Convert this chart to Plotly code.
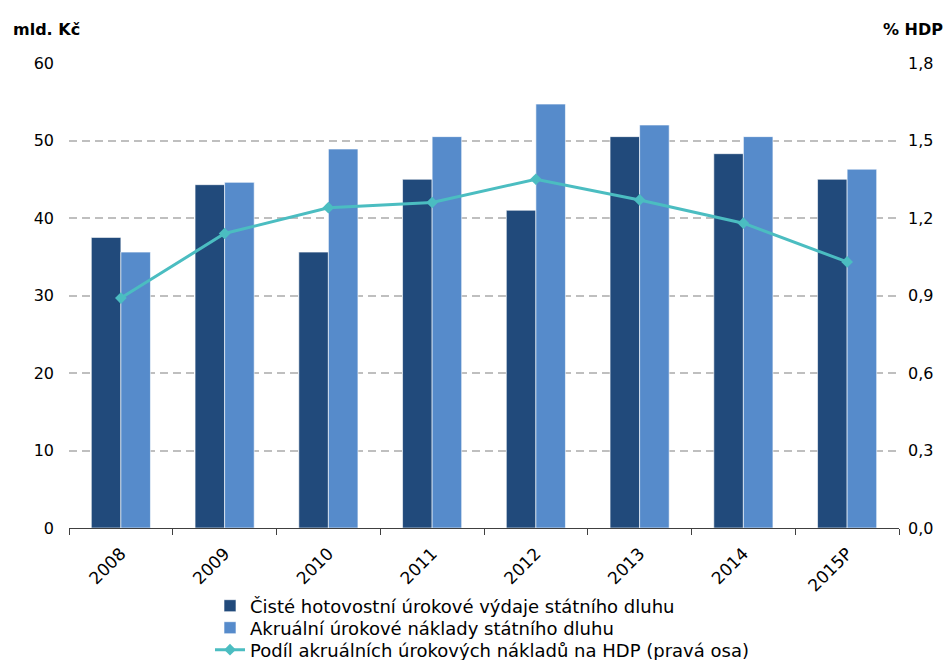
import plotly.graph_objects as go

years = ["2008", "2009", "2010", "2011", "2012", "2013", "2014", "2015P"]
cash_interest = [37.5, 44.3, 35.6, 45.0, 41.0, 50.5, 48.3, 45.0]
accrual_interest = [35.6, 44.6, 48.9, 50.5, 54.7, 52.0, 50.5, 46.3]
share_gdp = [0.89, 1.14, 1.24, 1.26, 1.35, 1.27, 1.18, 1.03]

name_cash = "Čisté hotovostní úrokové výdaje státního dluhu"
name_accr = "Akruální úrokové náklady státního dluhu"
name_share = "Podíl akruálních úrokových nákladů na HDP (pravá osa)"

FONT = "DejaVu Sans"
LEG_X = (210 - 69) / 830

fig = go.Figure()
fig.add_trace(go.Bar(x=years, y=cash_interest, name=name_cash, legend="legend",
                     marker=dict(color="#214A7B", line=dict(color="rgba(255,255,255,0.6)", width=1))))
fig.add_trace(go.Bar(x=years, y=accrual_interest, name=name_accr, legend="legend2",
                     marker=dict(color="#568BCB", line=dict(color="rgba(255,255,255,0.6)", width=1))))
fig.add_trace(go.Scatter(x=years, y=share_gdp, name=name_share, yaxis="y2", legend="legend3",
                         mode="lines+markers",
                         line=dict(color="#4BBDC1", width=3),
                         marker=dict(symbol="diamond", size=9, color="#4BBDC1")))

def leg(ypix):
    return dict(x=LEG_X, y=1 - ypix / 660, xref="paper", yref="container",
                xanchor="left", yanchor="middle",
                font=dict(family=FONT, size=18), itemwidth=30,
                bgcolor="rgba(0,0,0,0)")

fig.update_layout(
    width=949, height=660,
    margin=dict(l=69, r=50, t=63, b=132),
    paper_bgcolor="white", plot_bgcolor="white",
    separators=", ",
    font=dict(family=FONT, size=16, color="#000000"),
    barmode="group", bargap=0.43, bargroupgap=0,
    showlegend=True,
    legend=leg(606), legend2=leg(628), legend3=leg(650),
    xaxis=dict(type="category", showgrid=False, tickangle=-45, automargin=False,
               showline=True, linecolor="#404040", linewidth=1,
               ticks="outside", tickson="boundaries", ticklen=6, tickcolor="#404040",
               ticklabelstandoff=8, tickfont=dict(family=FONT, size=17)),
    yaxis=dict(range=[0, 60], dtick=10, showgrid=True, gridcolor="#BFBFBF",
               griddash="8px,5px", gridwidth=2, zeroline=False, showline=False, automargin=False,
               ticks="", ticklabelstandoff=14, tickfont=dict(family=FONT, size=16)),
    yaxis2=dict(range=[0, 1.8], dtick=0.3, overlaying="y", side="right", automargin=False,
                showgrid=False, zeroline=False, showline=False, tickformat=".1f",
                ticks="", ticklabelstandoff=8, tickfont=dict(family=FONT, size=16)),
    annotations=[
        dict(text="<b>mld. Kč</b>", xref="paper", yref="paper", x=-0.07, y=1.0,
             xanchor="left", yanchor="bottom", yshift=22, showarrow=False,
             font=dict(family=FONT, size=16)),
        dict(text="<b>% HDP</b>", xref="paper", yref="paper", x=1.055, y=1.0,
             xanchor="right", yanchor="bottom", yshift=22, showarrow=False,
             font=dict(family=FONT, size=16)),
    ],
)

fig.write_html("out.html")
